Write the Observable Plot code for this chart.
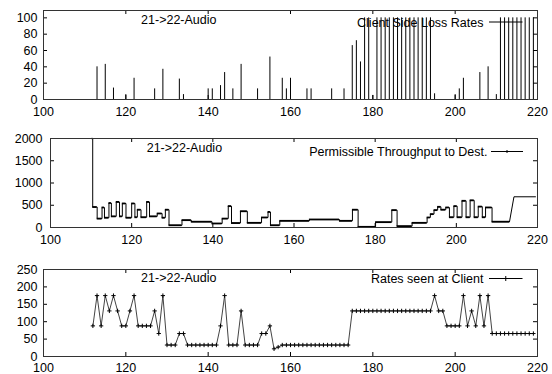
<!DOCTYPE html>
<html><head><meta charset="utf-8">
<script src="https://cdn.jsdelivr.net/npm/d3@7"></script>
<script src="https://cdn.jsdelivr.net/npm/@observablehq/plot@0.6"></script>
<style>
html,body{margin:0;padding:0;background:#fff;}
#chart{position:relative;width:552px;height:374px;overflow:hidden;background:#fff;}
#chart svg{position:absolute;left:0;}
</style></head><body><div id="chart"></div>
<script>
// ---------- data ----------
const panelTitle = "21->22-Audio";
const titleX = 123.7;
const xTicks = [100, 120, 140, 160, 180, 200, 220];

// top: Client Side Loss Rates (impulses)
const lossLabel = "Client Side Loss Rates";
const lossX = [113,115,117,120,122,127,129,133,134,140,141,143,144,146,148,152,155,158,159,160,164,165,170,173,175,176,177,178,179,180,181,182,183,184,185,186,187,188,189,190,191,192,193,194,195,200,201,202,206,208,210,211,212,213,214,215,216,217,218,219];
const lossY = [40,43,14,6,26,13,37,25,6,13,13,17,33,13,43,13,52,26,13,26,13,13,13,13,66,72,46,100,100,5,100,100,100,100,100,100,100,100,100,100,100,100,100,100,7,6,13,26,33,40,6,100,100,100,100,100,100,100,100,100];
const lossTicks = [0, 20, 40, 60, 80, 100];

// middle: Permissible Throughput to Dest. (steps)
const thrLabel = "Permissible Throughput to Dest.";
const thrX = [110.3,110.4,111.5,112.7,113.3,114.4,115.0,116.2,117.0,117.7,118.6,120.0,120.8,121.4,122.3,123.7,124.4,126.3,127.5,128.3,129.2,132.4,134.7,139.8,142.3,143.8,144.6,146.8,148.5,152.0,153.6,154.2,156.5,163.8,171.2,174.4,175.8,180.1,184.1,185.4,189.1,192.8,193.6,194.5,195.4,196.2,197.4,198.3,199.4,200.2,201.4,202.4,203.4,204.4,205.4,206.4,207.2,208.8,213.1];
const thrY = [2000,460,200,450,220,550,250,575,250,540,220,540,230,400,230,575,250,315,220,400,50,165,130,90,200,480,100,365,105,225,350,50,150,180,150,400,15,120,390,30,105,225,300,390,465,400,450,230,480,230,600,230,610,230,470,230,450,130,130];
const rampX = [213.1, 214.2, 219.5];
const rampY = [130, 690, 690];
const thrTicks = [0, 500, 1000, 1500, 2000];

// bottom: Rates seen at Client (linespoints)
const rateLabel = "Rates seen at Client";
const rateX = [112,113,114,115,116,117,118,119,120,121,122,123,124,125,126,127,128,129,130,131,132,133,134,135,136,137,138,139,140,141,142,143,144,145,146,147,148,149,150,151,152,153,154,155,156,157,158,159,160,161,162,163,164,165,166,167,168,169,170,171,172,173,174,175,176,177,178,179,180,181,182,183,184,185,186,187,188,189,190,191,192,193,194,195,196,197,198,199,200,201,202,203,204,205,206,207,208,209,210,211,212,213,214,215,216,217,218,219];
const rateY = [88,175,88,175,131,175,131,88,88,131,175,88,88,88,88,131,66,175,33,33,33,66,66,33,33,33,33,33,33,33,33,88,175,33,33,33,131,33,33,33,33,66,66,88,22,27,33,33,33,33,33,33,33,33,33,33,33,33,33,33,33,33,33,131,131,131,131,131,131,131,131,131,131,131,131,131,131,131,131,131,131,131,131,175,131,131,88,88,88,88,175,88,131,88,175,88,175,66,66,66,66,66,66,66,66,66,66,66];
const rateTicks = [0, 50, 100, 150, 200, 250];

// ---------- tables ----------
const lossData = lossX.map((x, i) => ({x, y: lossY[i]}));
const thrData = thrX.map((x, i) => ({x, y: thrY[i]}));
const thrSegs = thrX.slice(0, -1).map((x, i) => ({x1: x, x2: thrX[i + 1], y: thrY[i]}));
const rampData = rampX.map((x, i) => ({x, y: rampY[i]}));
const rateData = rateX.map((x, i) => ({x, y: rateY[i]}));

const W = 552;
const chart = document.getElementById("chart");

function makePanel(cfg) {
  const H = cfg.height - cfg.marginTop - cfg.marginBottom;
  const FW = W - cfg.marginLeft - cfg.marginRight;
  const tk = 4;
  const svg = Plot.plot({
    width: W, height: cfg.height,
    marginLeft: cfg.marginLeft, marginRight: cfg.marginRight,
    marginTop: cfg.marginTop, marginBottom: cfg.marginBottom,
    style: {fontFamily: "'Liberation Sans', Arial, sans-serif", fontSize: "12.5px", background: "transparent", color: "#000", overflow: "visible"},
    x: {domain: [100, 220], ticks: xTicks, tickSize: 0, tickPadding: cfg.xPad, tickFormat: d => String(d), label: null},
    y: {domain: cfg.yDomain, ticks: cfg.yTicks, tickSize: 0, tickPadding: cfg.yPad, tickFormat: d => String(d), label: null},
    marks: [
      ...cfg.marks,
      Plot.ruleX(xTicks, {x: d => d, insetTop: H - tk, stroke: "#000"}),
      Plot.ruleX(xTicks, {x: d => d, insetBottom: H - tk, stroke: "#000"}),
      Plot.ruleY(cfg.yTicks, {y: d => d, insetRight: FW - tk, stroke: "#000"}),
      Plot.ruleY(cfg.yTicks, {y: d => d, insetLeft: FW - tk, stroke: "#000"}),
      Plot.frame({stroke: "#333"}),
      Plot.text([panelTitle], {x: () => titleX, text: d => d, frameAnchor: "top", dy: cfg.titleDy, textAnchor: "start", lineAnchor: "middle", fill: "#000"}),
      Plot.text([cfg.legend], {text: d => d, frameAnchor: "top-right", dx: cfg.legendDx, dy: cfg.legendDy, textAnchor: "end", lineAnchor: "middle", fill: "#000"})
    ]
  });
  svg.style.top = cfg.top + "px";
  const g = d3.select(svg).append("g").attr("stroke", "#000").attr("stroke-width", 1);
  const right = W - cfg.marginRight;
  const ly = cfg.marginTop + cfg.legendDy;
  g.append("line").attr("x1", right - cfg.keyFrom).attr("x2", right - cfg.keyTo).attr("y1", ly).attr("y2", ly);
  const mid = right - (cfg.keyFrom + cfg.keyTo) / 2;
  if (cfg.keyMark === "tick") {
    g.append("line").attr("x1", mid).attr("x2", mid).attr("y1", ly - 1.5).attr("y2", ly + 1.5);
  } else if (cfg.keyMark === "plus") {
    g.append("line").attr("x1", mid).attr("x2", mid).attr("y1", ly - 2.5).attr("y2", ly + 2.5);
  }
  chart.appendChild(svg);
}

makePanel({
  top: 0, height: 118, marginTop: 10, marginBottom: 19, marginLeft: 43, marginRight: 15,
  yDomain: [0, 109], yTicks: lossTicks, xPad: 8, yPad: 6,
  titleDy: 9.6, legend: lossLabel, legendDx: -54, legendDy: 12, keyFrom: 48, keyTo: 14.5, keyMark: "none",
  marks: [Plot.ruleX(lossData, {x: "x", y1: 0, y2: "y", stroke: "#000", strokeWidth: 1})]
});

makePanel({
  top: 128, height: 118, marginTop: 10, marginBottom: 19, marginLeft: 50, marginRight: 15,
  yDomain: [0, 2000], yTicks: thrTicks, xPad: 8, yPad: 8,
  titleDy: 9, legend: thrLabel, legendDx: -50, legendDy: 13.5, keyFrom: 46, keyTo: 14, keyMark: "tick",
  marks: [
    Plot.line(thrData, {x: "x", y: "y", curve: "step-after", stroke: "#000", strokeWidth: 1}),
    Plot.ruleY(thrSegs, {x1: "x1", x2: "x2", y: "y", stroke: "#000", strokeWidth: 1.8}),
    Plot.line(rampData, {x: "x", y: "y", stroke: "#000", strokeWidth: 1})
  ]
});

makePanel({
  top: 259, height: 116, marginTop: 10, marginBottom: 19, marginLeft: 43, marginRight: 15,
  yDomain: [0, 250], yTicks: rateTicks, xPad: 6.5, yPad: 6,
  titleDy: 8.3, legend: rateLabel, legendDx: -54, legendDy: 9.5, keyFrom: 48, keyTo: 14.5, keyMark: "plus",
  marks: [
    Plot.line(rateData, {x: "x", y: "y", stroke: "#444", strokeWidth: 1}),
    Plot.dot(rateData, {x: "x", y: "y", symbol: "plus", r: 1.5, stroke: "#000", strokeWidth: 1})
  ]
});
</script></body></html>
